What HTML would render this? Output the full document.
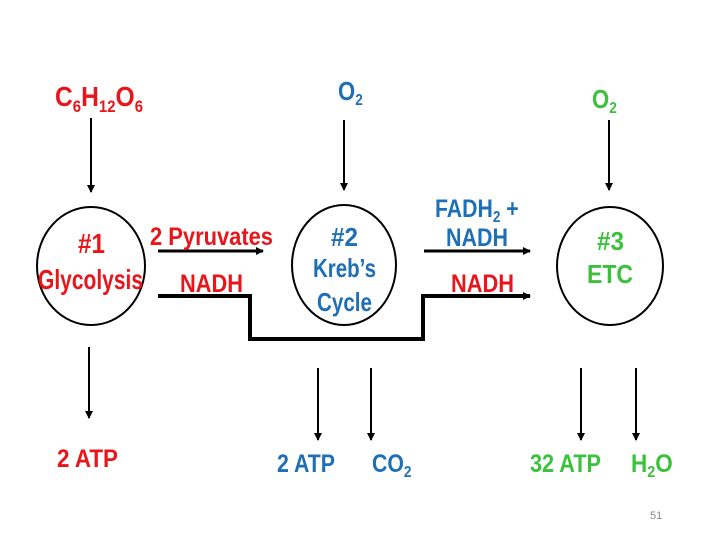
<!DOCTYPE html>
<html><head><meta charset="utf-8"><style>
html,body{margin:0;padding:0;background:#fff;width:720px;height:540px;overflow:hidden}
text{font-family:"Liberation Sans Narrow","Liberation Sans",sans-serif;font-weight:bold}
</style></head><body>
<svg width="720" height="540" viewBox="0 0 720 540" xmlns="http://www.w3.org/2000/svg">
<defs><marker id="a" markerWidth="8" markerHeight="8" refX="7" refY="4" orient="auto" markerUnits="userSpaceOnUse"><path d="M0,0 L8,4 L0,8 z" fill="#000"/></marker></defs>
<g stroke="#000" stroke-width="2" fill="none">
<ellipse cx="91" cy="266" rx="54" ry="59"/>
<ellipse cx="344" cy="265" rx="52" ry="60"/>
<ellipse cx="610" cy="266" rx="53" ry="59"/>
<line x1="91" y1="118" x2="91" y2="192" marker-end="url(#a)"/>
<line x1="344" y1="120" x2="344" y2="190" marker-end="url(#a)"/>
<line x1="609" y1="120" x2="609" y2="190" marker-end="url(#a)"/>
<line x1="89" y1="347" x2="89" y2="418" marker-end="url(#a)"/>
<line x1="318" y1="368" x2="318" y2="440" marker-end="url(#a)"/>
<line x1="371" y1="368" x2="371" y2="440" marker-end="url(#a)"/>
<line x1="581" y1="368" x2="581" y2="440" marker-end="url(#a)"/>
<line x1="636" y1="368" x2="636" y2="440" marker-end="url(#a)"/>
<line x1="158" y1="251" x2="263" y2="251" stroke-width="3" marker-end="url(#a)"/>
<line x1="424" y1="251" x2="530" y2="251" stroke-width="3" marker-end="url(#a)"/>
<polyline points="158,296 250,296 250,339 423,339 423,296 530,296" stroke-width="4" marker-end="url(#a)"/>
</g>
<g fill="#e8161b" font-size="28">
<g transform="translate(55,106) scale(0.88,1)"><text x="0" y="0">C<tspan font-size="17" dy="6">6</tspan><tspan dy="-6">H</tspan><tspan font-size="17" dy="6">12</tspan><tspan dy="-6">O</tspan><tspan font-size="17" dy="6">6</tspan></text></g>
<text x="78" y="253" textLength="27" lengthAdjust="spacingAndGlyphs">#1</text>
<text x="38" y="289" textLength="105" lengthAdjust="spacingAndGlyphs">Glycolysis</text>
<text x="150" y="245" font-size="25" textLength="123" lengthAdjust="spacingAndGlyphs">2 Pyruvates</text>
<text x="180" y="292" font-size="25" textLength="63" lengthAdjust="spacingAndGlyphs">NADH</text>
<text x="451" y="292" font-size="25" textLength="63" lengthAdjust="spacingAndGlyphs">NADH</text>
<text x="57" y="467" font-size="25" textLength="61" lengthAdjust="spacingAndGlyphs">2 ATP</text>
</g>
<g fill="#1f6fb5" font-size="26">
<g transform="translate(338,100) scale(0.85,1)"><text x="0" y="0">O<tspan font-size="16" dy="5">2</tspan></text></g>
<text x="331" y="246" textLength="27" lengthAdjust="spacingAndGlyphs">#2</text>
<text x="313" y="277" textLength="63" lengthAdjust="spacingAndGlyphs">Kreb’s</text>
<text x="317" y="311" textLength="55" lengthAdjust="spacingAndGlyphs">Cycle</text>
<g transform="translate(435,217) scale(0.85,1)"><text x="0" y="0" font-size="25">FADH<tspan font-size="16" dy="5">2</tspan><tspan dy="-5"> +</tspan></text></g>
<text x="446" y="246" font-size="25" textLength="62" lengthAdjust="spacingAndGlyphs">NADH</text>
<text x="277" y="472" font-size="25" textLength="58" lengthAdjust="spacingAndGlyphs">2 ATP</text>
<g transform="translate(372,472) scale(0.85,1)"><text x="0" y="0" font-size="25">CO<tspan font-size="16" dy="5">2</tspan></text></g>
</g>
<g fill="#3cc13c" font-size="26">
<g transform="translate(592,108) scale(0.85,1)"><text x="0" y="0">O<tspan font-size="16" dy="5">2</tspan></text></g>
<text x="597" y="250" textLength="27" lengthAdjust="spacingAndGlyphs">#3</text>
<text x="587" y="283" textLength="46" lengthAdjust="spacingAndGlyphs">ETC</text>
<text x="530" y="472" font-size="25" textLength="71" lengthAdjust="spacingAndGlyphs">32 ATP</text>
<g transform="translate(631,472) scale(0.9,1)"><text x="0" y="0" font-size="25">H<tspan font-size="16" dy="5">2</tspan><tspan dy="-5">O</tspan></text></g>
</g>
<text x="650" y="519" font-size="11" fill="#888" style="font-weight:normal">51</text>
</svg>
</body></html>
